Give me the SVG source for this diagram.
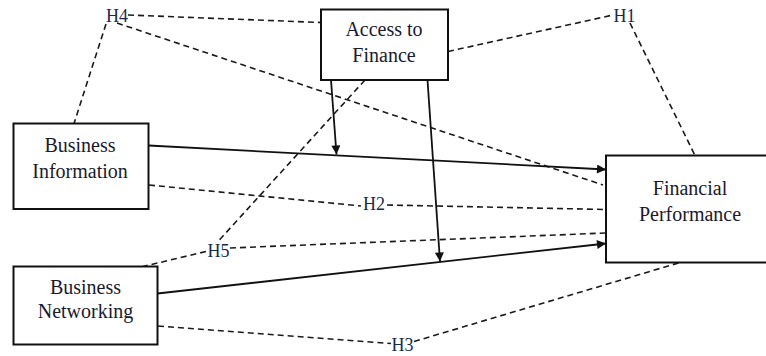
<svg xmlns="http://www.w3.org/2000/svg" width="766" height="356" viewBox="0 0 766 356">
  <style>
    .box { fill: #fff; stroke: #111; stroke-width: 2; }
    .lbl { font-family: 'Liberation Serif', 'DejaVu Serif', 'Times New Roman', serif; font-size: 20px; fill: #1a1a2e; text-anchor: middle; }
    .hyp { font-family: 'Liberation Serif', 'DejaVu Serif', 'Times New Roman', serif; font-size: 18px; fill: #1a2a4a; text-anchor: middle; }
    .dash { fill: none; stroke: #1a1a1a; stroke-width: 1.6; stroke-dasharray: 6 4; }
    .solid { fill: none; stroke: #111; stroke-width: 1.8; }
  </style>
  <defs>
    <marker id="arrow" viewBox="0 0 10 10" refX="10" refY="5" markerWidth="11" markerHeight="9" markerUnits="userSpaceOnUse" orient="auto">
      <path d="M0,0 L10,5 L0,10 Z" fill="#111"/>
    </marker>
  </defs>

  <g id="connectors">
    <!-- H4 links -->
    <line class="dash" x1="128" y1="15" x2="321" y2="22.5"/>
    <line class="dash" x1="106" y1="24" x2="74" y2="123.5"/>
    <line class="dash" x1="117" y1="23" x2="603" y2="185"/>
    <!-- H1 links -->
    <line class="dash" x1="448" y1="51.5" x2="613" y2="15"/>
    <line class="dash" x1="630" y1="23" x2="695" y2="155.5"/>
    <!-- H5 links -->
    <line class="dash" x1="365" y1="80" x2="218" y2="241.5"/>
    <line class="dash" x1="206" y1="251.5" x2="143" y2="266.5"/>
    <line class="dash" x1="230" y1="248" x2="606" y2="233"/>
    <!-- H2 links -->
    <line class="dash" x1="149" y1="185" x2="361" y2="206"/>
    <line class="dash" x1="387" y1="205" x2="606" y2="209.5"/>
    <!-- H3 links -->
    <line class="dash" x1="158" y1="326" x2="391" y2="343.5"/>
    <line class="dash" x1="414" y1="341.5" x2="680" y2="262.5"/>
    <!-- direct effects -->
    <line class="solid" x1="148.5" y1="145.5" x2="606" y2="169.5" marker-end="url(#arrow)"/>
    <line class="solid" x1="157.5" y1="293.5" x2="606" y2="243.5" marker-end="url(#arrow)"/>
    <!-- moderation arrows -->
    <line class="solid" x1="331" y1="80" x2="336.5" y2="154.5" marker-end="url(#arrow)"/>
    <line class="solid" x1="427.5" y1="80" x2="440" y2="261.5" marker-end="url(#arrow)"/>
  </g>

  <g id="access-to-finance">
    <rect class="box" x="321" y="9.5" width="127" height="70.5"/>
    <text class="lbl" x="384" y="36">Access to</text>
    <text class="lbl" x="384" y="62">Finance</text>
  </g>

  <g id="business-information">
    <rect class="box" x="13.5" y="123.5" width="135" height="85.5"/>
    <text class="lbl" x="80" y="152">Business</text>
    <text class="lbl" x="80" y="178">Information</text>
  </g>

  <g id="business-networking">
    <rect class="box" x="13.5" y="266.5" width="144" height="78"/>
    <text class="lbl" x="85.5" y="293.5">Business</text>
    <text class="lbl" x="85.5" y="318">Networking</text>
  </g>

  <g id="financial-performance">
    <rect class="box" x="606" y="155.5" width="170" height="107"/>
    <text class="lbl" x="690" y="195">Financial</text>
    <text class="lbl" x="690" y="221">Performance</text>
  </g>

  <g id="hypotheses">
    <text class="hyp" x="117" y="22">H4</text>
    <text class="hyp" x="624.5" y="22">H1</text>
    <text class="hyp" x="374" y="210">H2</text>
    <text class="hyp" x="218.5" y="256.5">H5</text>
    <text class="hyp" x="402.5" y="351">H3</text>
  </g>
</svg>
